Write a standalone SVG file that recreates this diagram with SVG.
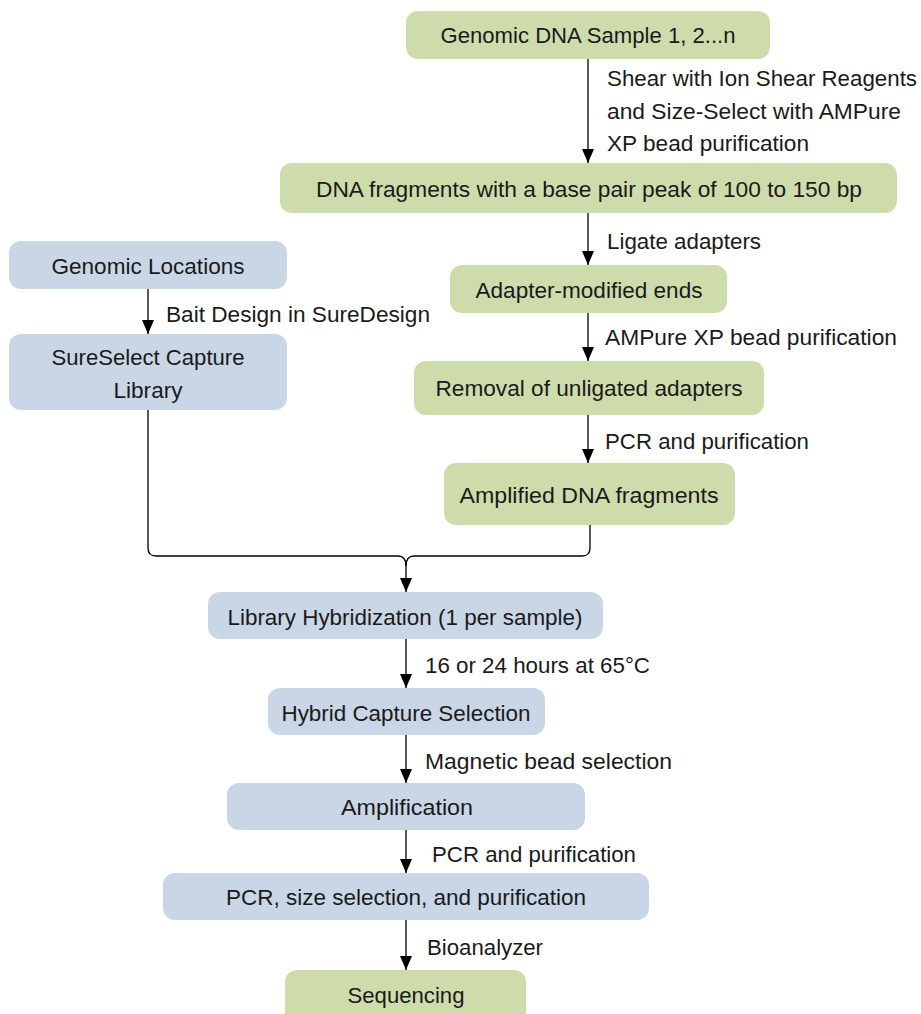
<svg xmlns="http://www.w3.org/2000/svg" width="921" height="1014" viewBox="0 0 921 1014">
<style>
.g{fill:#cedcab}
.b{fill:#c9d6e5}
.t{font-family:"Liberation Sans",Arial,sans-serif;font-size:22px;fill:#1a1a1a;text-anchor:middle;dominant-baseline:central}
.l{font-family:"Liberation Sans",Arial,sans-serif;font-size:22px;fill:#1a1a1a;dominant-baseline:central}
.c{fill:none;stroke:#000;stroke-width:1.3}
</style>
<defs>
<marker id="ah" markerUnits="userSpaceOnUse" markerWidth="14" markerHeight="12" refX="14" refY="6" orient="auto">
<path d="M0,0 L14,6 L0,12 z" fill="#000"/>
</marker>
</defs>
<rect width="921" height="1014" fill="#fff"/>
<g id="connectors">
<path class="c" d="M588,59 V163" marker-end="url(#ah)"/>
<path class="c" d="M588,213 V265" marker-end="url(#ah)"/>
<path class="c" d="M588,313 V361" marker-end="url(#ah)"/>
<path class="c" d="M588,415 V463" marker-end="url(#ah)"/>
<path class="c" d="M148,289 V334" marker-end="url(#ah)"/>
<path class="c" d="M148,410 V548 Q148,556 156,556 H398 Q406,556 406,566"/>
<path class="c" d="M590,525 V548 Q590,556 582,556 H414 Q406,556 406,566 V592" marker-end="url(#ah)"/>
<path class="c" d="M406,639 V688" marker-end="url(#ah)"/>
<path class="c" d="M406,735 V783" marker-end="url(#ah)"/>
<path class="c" d="M406,830 V873" marker-end="url(#ah)"/>
<path class="c" d="M406,920 V970" marker-end="url(#ah)"/>
<text class="l" x="607" y="78" textLength="310" lengthAdjust="spacingAndGlyphs">Shear with Ion Shear Reagents</text>
<text class="l" x="607" y="111" textLength="294" lengthAdjust="spacingAndGlyphs">and Size-Select with AMPure</text>
<text class="l" x="607" y="143" textLength="202" lengthAdjust="spacingAndGlyphs">XP bead purification</text>
<text class="l" x="607" y="241" textLength="154" lengthAdjust="spacingAndGlyphs">Ligate adapters</text>
<text class="l" x="166" y="314" textLength="264" lengthAdjust="spacingAndGlyphs">Bait Design in SureDesign</text>
<text class="l" x="605" y="337" textLength="292" lengthAdjust="spacingAndGlyphs">AMPure XP bead purification</text>
<text class="l" x="605" y="441" textLength="204" lengthAdjust="spacingAndGlyphs">PCR and purification</text>
<text class="l" x="425" y="665" textLength="225" lengthAdjust="spacingAndGlyphs">16 or 24 hours at 65°C</text>
<text class="l" x="425" y="761" textLength="247" lengthAdjust="spacingAndGlyphs">Magnetic bead selection</text>
<text class="l" x="432" y="854" textLength="204" lengthAdjust="spacingAndGlyphs">PCR and purification</text>
<text class="l" x="427" y="947" textLength="116" lengthAdjust="spacingAndGlyphs">Bioanalyzer</text>
</g>
<g id="n1"><rect class="g" x="406" y="11" width="364" height="48" rx="12"/><text class="t" x="588" y="35" textLength="295" lengthAdjust="spacingAndGlyphs">Genomic DNA Sample 1, 2...n</text></g>
<g id="n2"><rect class="g" x="280" y="163" width="617" height="50" rx="12"/><text class="t" x="589" y="189" textLength="546" lengthAdjust="spacingAndGlyphs">DNA fragments with a base pair peak of 100 to 150 bp</text></g>
<g id="n3"><rect class="g" x="450" y="265" width="277" height="48" rx="12"/><text class="t" x="589" y="290" textLength="227" lengthAdjust="spacingAndGlyphs">Adapter-modified ends</text></g>
<g id="n4"><rect class="g" x="414" y="361" width="350" height="54" rx="12"/><text class="t" x="589" y="388" textLength="307" lengthAdjust="spacingAndGlyphs">Removal of unligated adapters</text></g>
<g id="n5"><rect class="g" x="444" y="463" width="291" height="62" rx="12"/><text class="t" x="589" y="495" textLength="259" lengthAdjust="spacingAndGlyphs">Amplified DNA fragments</text></g>
<g id="n6"><rect class="b" x="9" y="241" width="278" height="48" rx="12"/><text class="t" x="148" y="266" textLength="193" lengthAdjust="spacingAndGlyphs">Genomic Locations</text></g>
<g id="n7"><rect class="b" x="9" y="334" width="278" height="76" rx="12"/><text class="t" x="148" y="357" textLength="193" lengthAdjust="spacingAndGlyphs">SureSelect Capture</text><text class="t" x="148" y="390" textLength="69" lengthAdjust="spacingAndGlyphs">Library</text></g>
<g id="n8"><rect class="b" x="208" y="592" width="395" height="47" rx="12"/><text class="t" x="405" y="617" textLength="355" lengthAdjust="spacingAndGlyphs">Library Hybridization (1 per sample)</text></g>
<g id="n9"><rect class="b" x="268" y="688" width="277" height="47" rx="12"/><text class="t" x="406" y="713" textLength="249" lengthAdjust="spacingAndGlyphs">Hybrid Capture Selection</text></g>
<g id="n10"><rect class="b" x="227" y="783" width="358" height="47" rx="12"/><text class="t" x="407" y="807" textLength="132" lengthAdjust="spacingAndGlyphs">Amplification</text></g>
<g id="n11"><rect class="b" x="163" y="873" width="486" height="47" rx="12"/><text class="t" x="406" y="897" textLength="360" lengthAdjust="spacingAndGlyphs">PCR, size selection, and purification</text></g>
<g id="n12"><rect class="g" x="285" y="970" width="241" height="56" rx="12"/><text class="t" x="406" y="995" textLength="117" lengthAdjust="spacingAndGlyphs">Sequencing</text></g>
</svg>
